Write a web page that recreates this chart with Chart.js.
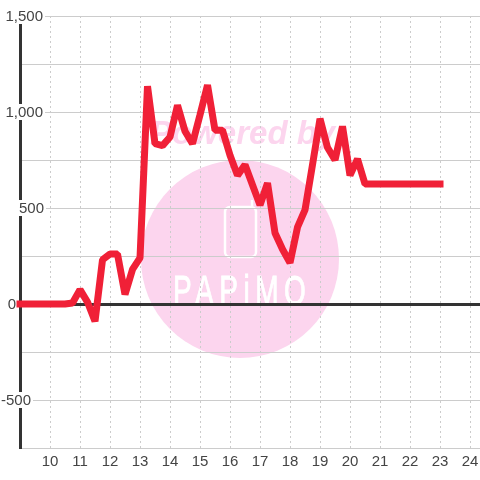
<!DOCTYPE html>
<html>
<head>
<meta charset="utf-8">
<style>
  html, body { margin: 0; background: #fff; }
  canvas { display: block; }
</style>
<script src="https://cdn.jsdelivr.net/npm/chart.js@4/dist/chart.umd.min.js"></script>
</head>
<body>
<canvas id="chart" width="480" height="480"></canvas>
<script>
// hour of day, one point per quarter hour
const hours = [9, 9.25, 9.5, 9.75, 10, 10.25, 10.5, 10.75, 11, 11.25, 11.5, 11.75,
  12, 12.25, 12.5, 12.75, 13, 13.25, 13.5, 13.75, 14, 14.25, 14.5, 14.75,
  15, 15.25, 15.5, 15.75, 16, 16.25, 16.5, 16.75, 17, 17.25, 17.5, 17.75,
  18, 18.25, 18.5, 18.75, 19, 19.25, 19.5, 19.75, 20, 20.25, 20.5, 20.75,
  21, 21.25, 21.5, 21.75, 22, 22.25, 22.5, 22.75, 23];
const values = [0, 0, 0, 0, 0, 0, 0, 5, 75, 10, -90, 230,
  260, 260, 50, 180, 240, 1135, 835, 825, 870, 1035, 900, 835,
  985, 1140, 905, 905, 775, 670, 725, 620, 515, 630, 370, 285,
  215, 400, 490, 725, 965, 815, 750, 925, 670, 755, 625, 625,
  625, 625, 625, 625, 625, 625, 625, 625, 625];
const yTickValues = [1500, 1000, 500, 0, -500];
const yTickLabels = ["1,500", "1,000", "500", "0", "-500"];

const LABEL_RIGHT = [43, 43, 44, 16, 31]; // labels sit at odd offsets over the axis
const FONT = '"Liberation Sans", Arial, sans-serif';
const TEXT = "#444444";
const GRID = "#cccccc";
const DARK = "#333333";
const PINK = "#fcd5ee";

// watermark goes under the grid
const watermark = {
  id: "watermark",
  beforeDraw(c) {
    const g = c.ctx;
    g.save();
    g.fillStyle = "#fff";
    g.fillRect(0, 0, c.width, c.height);

    g.fillStyle = PINK;
    g.beginPath();
    g.arc(240, 259, 99, 0, Math.PI * 2);
    g.fill();

    g.font = 'italic bold 33px "Liberation Sans"';
    g.textAlign = "left";
    g.textBaseline = "alphabetic";
    g.fillText("Powered by", 150, 144);

    // phone outline
    g.strokeStyle = "#fff";
    g.lineWidth = 2.5;
    g.beginPath();
    g.roundRect(225, 207, 31, 50, 5);
    g.stroke();
    g.beginPath();
    g.moveTo(252, 207);
    g.lineTo(252, 200);
    g.stroke();

    g.fillStyle = "#fff";
    g.strokeStyle = "#fff";
    g.lineWidth = 0.6;
    g.translate(173, 305);
    g.scale(1, 1.5);
    g.font = '28px "Liberation Sans"';
    g.letterSpacing = "5.5px";
    g.strokeText("PAPiMO", 0, 0);
    g.fillText("PAPiMO", 0, 0);
    g.restore();
  },
  // y labels carry a white box that cuts the axis and grid lines
  beforeDatasetsDraw(c) {
    const g = c.ctx;
    const y = c.scales.y;
    g.save();
    g.font = "15px " + FONT;
    g.textAlign = "right";
    g.textBaseline = "middle";
    yTickLabels.forEach((label, i) => {
      const py = y.getPixelForValue(yTickValues[i]);
      const w = g.measureText(label).width;
      if (yTickValues[i] !== 0) {
        g.fillStyle = "#fff";
        g.fillRect(LABEL_RIGHT[i] - w - 1, py - 8, w + 3, 16);
      }
      g.fillStyle = TEXT;
      g.fillText(label, LABEL_RIGHT[i], py + 1);
    });
    g.restore();
  },
};

new Chart(document.getElementById("chart"), {
  type: "line",
  data: {
    datasets: [{
      data: hours.map((h, i) => ({ x: h, y: values[i] })),
      borderColor: "#f02037",
      borderWidth: 7,
      borderCapStyle: "square",
      borderJoinStyle: "bevel",
      pointRadius: 0,
      tension: 0,
      fill: false,
      clip: false,
    }],
  },
  plugins: [watermark],
  options: {
    responsive: false,
    animation: false,
    layout: { padding: { top: 16, left: 20, right: 0, bottom: 0 } },
    plugins: { legend: { display: false }, tooltip: { enabled: false } },
    scales: {
      x: {
        type: "linear",
        min: 9,
        max: 24.333,
        afterFit(s) { s.height = 32; s.paddingLeft = 0; s.paddingRight = 0; },
        border: { display: true, color: GRID, width: 1, dash: [2, 3] },
        grid: { color: GRID, lineWidth: 1, drawTicks: false },
        ticks: {
          stepSize: 1,
          includeBounds: false,
          autoSkip: false,
          maxRotation: 0,
          padding: 5,
          color: TEXT,
          font: { family: FONT, size: 15 },
          callback: v => (v === 9 ? "" : String(v)),
        },
      },
      y: {
        type: "linear",
        min: -750,
        max: 1500,
        afterFit(s) { s.width = 0; },
        border: { display: true, color: DARK, width: 3 },
        grid: {
          drawTicks: false,
          color: ctx => (ctx.tick && ctx.tick.value === 0 ? DARK : GRID),
          lineWidth: ctx => (ctx.tick && ctx.tick.value === 0 ? 3 : 1),
        },
        ticks: { display: false, stepSize: 250 },
      },
    },
  },
});
</script>
</body>
</html>
